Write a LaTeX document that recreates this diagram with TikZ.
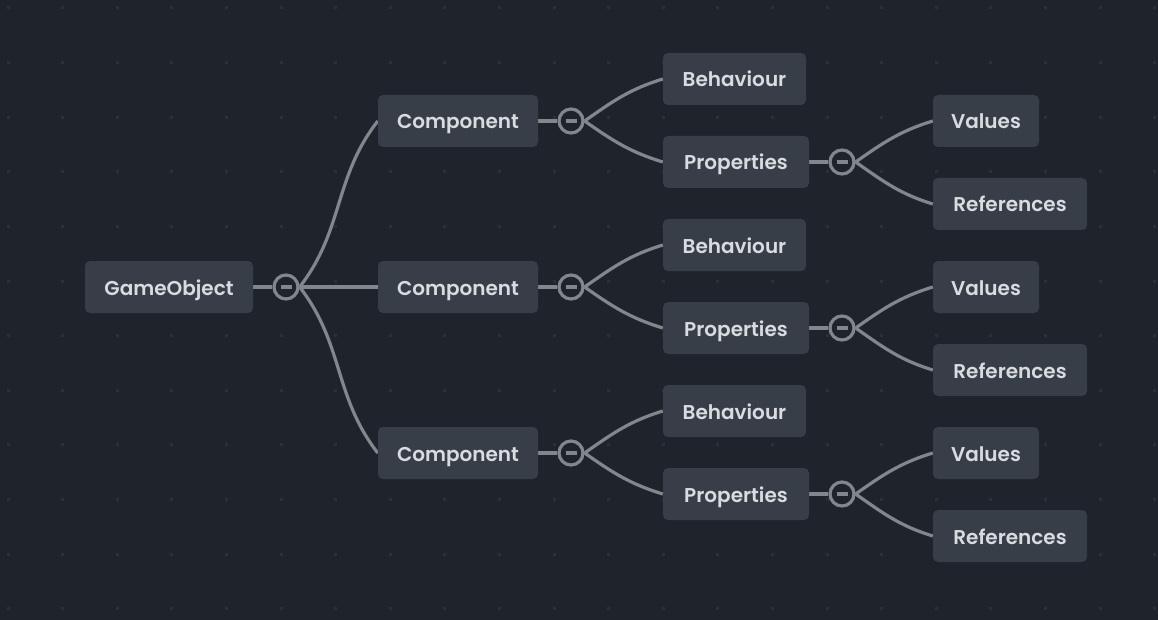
\documentclass[tikz,border=0pt]{standalone}
\usepackage{fontspec}
\IfFontExistsTF{Poppins SemiBold}{\setmainfont{Poppins SemiBold}}{\IfFontExistsTF{Poppins Medium}{\setmainfont{Poppins Medium}}{\setmainfont{Poppins}[FakeBold=1.2]}}
\definecolor{bgc}{HTML}{1F242C}
\definecolor{nodefill}{HTML}{383E47}
\definecolor{txt}{HTML}{D8DCE1}
\definecolor{ln}{HTML}{82878E}
\definecolor{dotc}{HTML}{2A3039}
\pgfdeclarelayer{bglayer}
\pgfdeclarelayer{edges}
\pgfsetlayers{bglayer,edges,main}
\tikzset{
  box/.style={rounded corners=5pt, fill=nodefill, text=txt, inner sep=0pt,
    minimum height=52pt, text height=20pt, text depth=4pt,
    font=\fontsize{20}{24}\selectfont},
  toggle/.style={circle, draw=ln, line width=3.2pt, fill=bgc, minimum size=24pt, inner sep=0pt,
    path picture={\draw[ln,line width=3.2pt] ([xshift=-5.5pt]path picture bounding box.center) -- ([xshift=5.5pt]path picture bounding box.center);}},
  conn/.style={ln, line width=3.2pt},
}
\begin{document}
\begin{tikzpicture}[x=1pt,y=-1pt]
\begin{pgfonlayer}{bglayer}
\fill[bgc] (0,0) rectangle (1158,620);
\foreach \i in {0,...,21}{
  \foreach \j in {0,...,11}{
    \fill[dotc] (8+54.6*\i-1.5, 8+54.6*\j-1.5) rectangle +(3,3);
  }
}
\end{pgfonlayer}
\useasboundingbox (0,0) rectangle (1158,620);

\node[box, minimum width=168pt] (root) at (169,287) {GameObject};
\node[toggle] (t0) at (286,287) {};

\foreach \k/\y in {1/121, 2/287, 3/453}{
  \node[box, minimum width=160pt] (comp\k) at (458,\y) {Component};
  \node[toggle] (tc\k) at (571,\y) {};
  \node[box, minimum width=143pt] (beh\k) at (734.5,\y-42) {Behaviour};
  \node[box, minimum width=146pt] (prop\k) at (736,\y+41) {Properties};
  \node[toggle] (tp\k) at (842,\y+41) {};
  \node[box, minimum width=106pt] (val\k) at (986,\y) {Values};
  \node[box, minimum width=154pt] (ref\k) at (1010,\y+83) {References};
  \begin{pgfonlayer}{edges}
    \draw[conn] (comp\k.east) -- (tc\k.west);
    \draw[conn] (tc\k.east) to[out=35,in=197] (beh\k.west);
    \draw[conn] (tc\k.east) to[out=-35,in=163] (prop\k.west);
    \draw[conn] (prop\k.east) -- (tp\k.west);
    \draw[conn] (tp\k.east) to[out=35,in=197] (val\k.west);
    \draw[conn] (tp\k.east) to[out=-35,in=163] (ref\k.west);
  \end{pgfonlayer}
}
\begin{pgfonlayer}{edges}
\draw[conn] (root.east) -- (t0.west);
\draw[conn] (t0.east) to[out=52,in=232] (comp1.west);
\draw[conn] (t0.east) -- (comp2.west);
\draw[conn] (t0.east) to[out=-52,in=128] (comp3.west);
\end{pgfonlayer}
\end{tikzpicture}
\end{document}
